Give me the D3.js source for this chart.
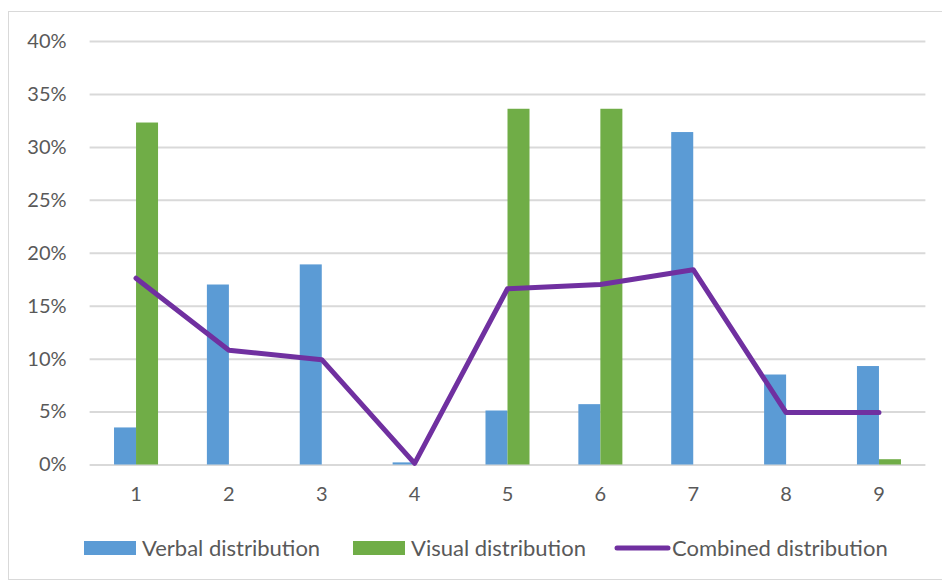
<!DOCTYPE html>
<html>
<head>
<meta charset="utf-8">
<script src="https://cdn.jsdelivr.net/npm/d3@7"></script>
<style>
  html, body { margin: 0; padding: 0; background: #fff; }
  svg { display: block; }
  text { font-family: Lato, "Open Sans", sans-serif; fill: #595959; }
</style>
</head>
<body>
<svg id="chart" width="942" height="581"></svg>
<script>
// Categories and series values (fractions)
const categories = ["1", "2", "3", "4", "5", "6", "7", "8", "9"];
const verbal   = [0.035, 0.170, 0.189, 0.002, 0.051, 0.057, 0.314, 0.085, 0.093];
const visual   = [0.323, 0.000, 0.000, 0.000, 0.336, 0.336, 0.000, 0.000, 0.005];
const combined = [0.176, 0.108, 0.099, 0.001, 0.166, 0.170, 0.184, 0.049, 0.049];
const yTicks   = [0, 0.05, 0.10, 0.15, 0.20, 0.25, 0.30, 0.35, 0.40];
const seriesNames = ["Verbal distribution", "Visual distribution", "Combined distribution"];
const colors = { verbal: "#5B9BD5", visual: "#70AD47", combined: "#7030A0" };

const svg = d3.select("#chart");

// chart frame
svg.append("rect")
  .attr("x", 8.5).attr("y", 11.5)
  .attr("width", 945).attr("height", 568)
  .attr("fill", "none").attr("stroke", "#D9D9D9").attr("stroke-width", 1);

const plot = { left: 89.6, right: 925.4, top: 41, bottom: 464.5 };

const x0 = d3.scaleBand()
  .domain(categories)
  .range([plot.left, plot.right])
  .paddingInner(0.526)
  .paddingOuter(0.263);

const x1 = d3.scaleBand()
  .domain(["verbal", "visual"])
  .range([0, x0.bandwidth()]);

const y = d3.scaleLinear()
  .domain([0, 0.40])
  .range([plot.bottom, plot.top]);

// gridlines + y labels via axis
const yAxis = d3.axisLeft(y)
  .tickValues(yTicks)
  .tickFormat(d3.format(".0%"))
  .tickSize(-(plot.right - plot.left))
  .tickPadding(23);

const gy = svg.append("g")
  .attr("transform", `translate(${plot.left},0)`)
  .call(yAxis);
gy.select(".domain").remove();
gy.selectAll(".tick line").attr("stroke", "#D9D9D9").attr("stroke-width", 2);
gy.selectAll(".tick text")
  .attr("font-size", 20)
  .attr("font-family", "Lato, 'Open Sans', sans-serif")
  .attr("fill", "#595959");

// x labels via axis
const xAxis = d3.axisBottom(x0).tickSize(0).tickPadding(22);
const gx = svg.append("g")
  .attr("transform", `translate(0,${plot.bottom})`)
  .call(xAxis);
gx.select(".domain").remove();
gx.selectAll(".tick text")
  .attr("font-size", 20)
  .attr("font-family", "Lato, 'Open Sans', sans-serif")
  .attr("fill", "#595959");

// bars
const rows = categories.map((c, i) => ({ cat: c, verbal: verbal[i], visual: visual[i] }));
const groups = svg.append("g").selectAll("g")
  .data(rows).join("g")
  .attr("transform", d => `translate(${x0(d.cat)},0)`);

groups.selectAll("rect")
  .data(d => ["verbal", "visual"].map(k => ({ key: k, value: d[k] })))
  .join("rect")
  .attr("x", d => x1(d.key))
  .attr("width", x1.bandwidth())
  .attr("y", d => y(d.value))
  .attr("height", d => y(0) - y(d.value))
  .attr("fill", d => colors[d.key]);

// combined line
const line = d3.line()
  .x((d, i) => x0(categories[i]) + x0.bandwidth() / 2)
  .y(d => y(d));

svg.append("path")
  .datum(combined)
  .attr("d", line)
  .attr("fill", "none")
  .attr("stroke", colors.combined)
  .attr("stroke-width", 5)
  .attr("stroke-linejoin", "round")
  .attr("stroke-linecap", "round");

// legend
const legendY = 548;
const legendFont = 22;
const legend = svg.append("g");
const items = [
  { name: seriesNames[0], key: "verbal", x: 84, type: "rect" },
  { name: seriesNames[1], key: "visual", x: 353, type: "rect" },
  { name: seriesNames[2], key: "combined", x: 615, type: "line" }
];
items.forEach(it => {
  if (it.type === "rect") {
    legend.append("rect")
      .attr("x", it.x).attr("y", legendY - 7)
      .attr("width", 52).attr("height", 14)
      .attr("fill", colors[it.key]);
    legend.append("text")
      .attr("x", it.x + 58).attr("y", legendY)
      .attr("dy", "0.35em")
      .attr("font-size", legendFont)
      .text(it.name);
  } else {
    legend.append("line")
      .attr("x1", it.x + 2).attr("x2", it.x + 53)
      .attr("y1", legendY).attr("y2", legendY)
      .attr("stroke", colors[it.key])
      .attr("stroke-width", 5)
      .attr("stroke-linecap", "round");
    legend.append("text")
      .attr("x", it.x + 57).attr("y", legendY)
      .attr("dy", "0.35em")
      .attr("font-size", legendFont)
      .text(it.name);
  }
});
</script>
</body>
</html>
